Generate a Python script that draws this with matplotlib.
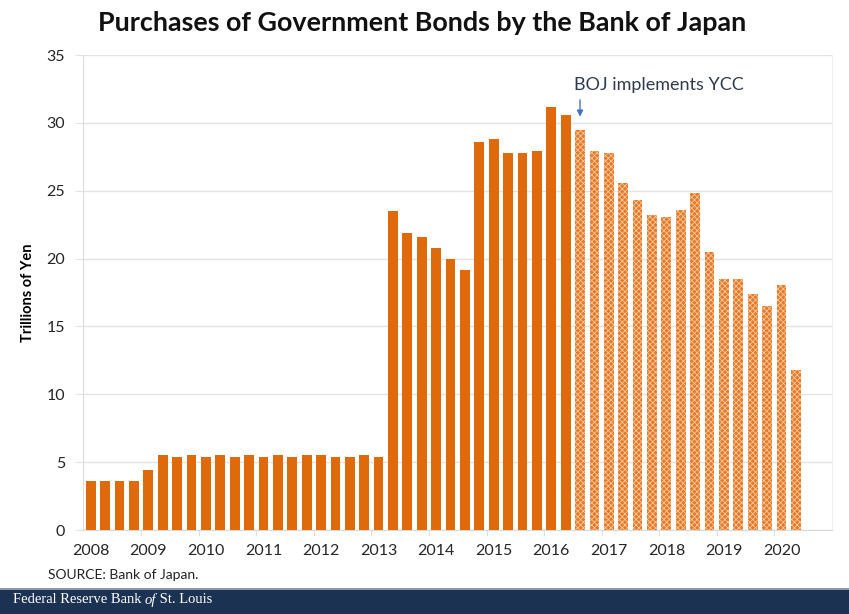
import matplotlib.pyplot as plt
from matplotlib.patches import Rectangle

plt.rcParams['font.family'] = ['Lato', 'DejaVu Sans']
plt.rcParams['hatch.linewidth'] = 0.6

# quarterly purchases, 2008Q1 .. 2020Q2 (trillions of yen)
quarters = [f'{y}Q{q}' for y in range(2008, 2021) for q in range(1, 5)][:50]
purchases = [
    3.6, 3.6, 3.6, 3.6,
    4.4, 5.5, 5.4, 5.5,
    5.4, 5.5, 5.4, 5.5,
    5.4, 5.5, 5.4, 5.5,
    5.5, 5.4, 5.4, 5.55,
    5.4, 23.5, 21.9, 21.6,
    20.8, 20.0, 19.15, 28.6,
    28.8, 27.8, 27.8, 27.9,
    31.2, 30.6, 29.45, 27.9,
    27.8, 25.6, 24.3, 23.2,
    23.05, 23.6, 24.8, 20.5,
    18.5, 18.5, 17.4, 16.5,
    18.05, 11.8,
]
ycc_start = '2016Q3'
year_labels = [str(y) for y in range(2008, 2021)]

solid = '#DF6A0C'
dotted_face = '#E67A26'
dotted_edge = '#F6C8A0'

fig = plt.figure(figsize=(8.49, 6.14), dpi=100)
ax = fig.add_axes([0.0978, 0.1368, 0.882, 0.7736])

split = quarters.index(ycc_start)
xs = list(range(len(quarters)))
ax.bar(xs[:split], purchases[:split], width=0.68, color=solid, zorder=3)
ax.bar(xs[split:], purchases[split:], width=0.68, color=dotted_face,
       edgecolor=dotted_edge, hatch='xxxxxx', linewidth=0, zorder=3)

ax.set_ylim(0, 35)
ax.set_xlim(-0.54, 51.5)
ax.set_yticks(range(0, 36, 5))
ax.yaxis.grid(True, color='#E3E3E3', linewidth=1.0, zorder=0)
ax.tick_params(axis='y', length=5.8, color='#E3E3E3', labelsize=11.5,
               labelcolor='#262626', pad=7)

label_pos = [quarters.index(f'{y}Q1') for y in year_labels]
ax.set_xticks(label_pos)
ax.set_xticklabels(year_labels)
ax.set_xticks([p - 0.5 for p in label_pos[1:]], minor=True)
ax.tick_params(axis='x', which='major', length=0, labelsize=11.5,
               labelcolor='#262626', pad=10)
ax.tick_params(axis='x', which='minor', length=4, color='#D9D9D9')

ax.spines['top'].set_visible(False)
ax.spines['right'].set_color('#EEEEEE')
ax.spines['left'].set_color('#DDDDDD')
ax.spines['bottom'].set_color('#D9D9D9')

ax.set_ylabel('Trillions of Yen', fontsize=10.5, fontweight='bold', labelpad=8)

ax.annotate('', xy=(split, 30.25), xytext=(split, 31.9),
            arrowprops=dict(arrowstyle='-|>', color='#4472C4', lw=1.0,
                            mutation_scale=9), zorder=4)
ax.text(split - 0.45, 32.2, 'BOJ implements YCC', fontsize=13,
        color='#2F3B4C', ha='left', va='bottom')

fig.text(0.497, 0.962, 'Purchases of Government Bonds by the Bank of Japan',
         ha='center', va='center', fontsize=19.4, fontweight='bold',
         color='#111111')
fig.text(0.057, 0.063, 'SOURCE: Bank of Japan.', fontsize=10,
         color='#222222', va='center')

fig.patches.append(Rectangle((0, 0), 1, 0.039, transform=fig.transFigure,
                             facecolor='#1B3252', edgecolor='none'))
fig.patches.append(Rectangle((0, 0.039), 1, 0.003, transform=fig.transFigure,
                             facecolor='#8A9AAE', edgecolor='none'))

# footer: "Federal Reserve Bank of St. Louis" with italic "of"
renderer = fig.canvas.get_renderer()
x = 0.015
for part, style in [('Federal Reserve Bank ', 'normal'), ('of', 'italic'),
                    (' St. Louis', 'normal')]:
    t = fig.text(x, 0.023, part, fontsize=10.5, family='Liberation Serif',
                 style=style, color='white', va='center')
    x = fig.transFigure.inverted().transform(
        t.get_window_extent(renderer).p1)[0]

fig.savefig('out.png', dpi=100)
